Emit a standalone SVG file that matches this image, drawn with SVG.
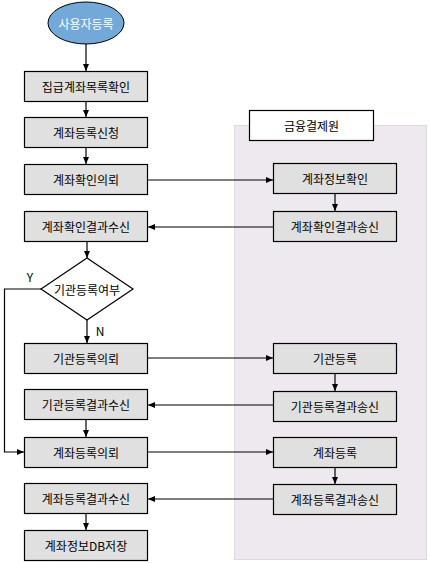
<svg xmlns="http://www.w3.org/2000/svg" width="430" height="563" viewBox="0 0 430 563">
<style>
.box{fill:#E0E0E0;stroke:#000;stroke-width:1.2}
.t{font-family:"Noto Sans CJK KR","Noto Sans",sans-serif;font-size:12px;fill:#000;text-anchor:middle;dominant-baseline:central}
.c{fill:none;stroke:#000;stroke-width:1.2}
.a{marker-end:url(#ah)}
</style>
<defs>
<marker id="ah" markerUnits="userSpaceOnUse" markerWidth="8" markerHeight="8" refX="7" refY="4" orient="auto">
<path d="M0,1 L7,4 L0,7 z" fill="#000"/>
</marker>
</defs>
<rect id="panel" x="234.5" y="125.5" width="192" height="434" fill="#EEE9EE" stroke="#DDD8DD" stroke-width="1"/>
<g id="panel-label"><rect x="249.5" y="110.5" width="124" height="30" fill="#fff" stroke="#000" stroke-width="1.2"/><text class="t" x="311.5" y="125.5">금융결제원</text></g>
<g id="connectors">
<line class="c a" x1="86" y1="44" x2="86" y2="71"/>
<line class="c a" x1="86" y1="101" x2="86" y2="117"/>
<line class="c a" x1="86" y1="148" x2="86" y2="164"/>
<line class="c a" x1="148" y1="180" x2="273" y2="180"/>
<line class="c a" x1="335" y1="194" x2="335" y2="211"/>
<line class="c a" x1="273" y1="227" x2="148" y2="227"/>
<line class="c a" x1="87" y1="242" x2="87" y2="258"/>
<line class="c a" x1="87" y1="320" x2="87" y2="343"/>
<polyline class="c a" points="41,289 4.5,289 4.5,452 24,452"/>
<line class="c a" x1="148" y1="358" x2="273" y2="358"/>
<line class="c a" x1="335" y1="373" x2="335" y2="391"/>
<line class="c a" x1="273" y1="405" x2="148" y2="405"/>
<line class="c a" x1="86" y1="420" x2="86" y2="437"/>
<line class="c a" x1="148" y1="452" x2="273" y2="452"/>
<line class="c a" x1="335" y1="467" x2="335" y2="484"/>
<line class="c a" x1="273" y1="499" x2="148" y2="499"/>
<line class="c a" x1="86" y1="513" x2="86" y2="530"/>
<text class="t" x="30" y="276">Y</text>
<text class="t" x="100" y="330">N</text>
</g>
<g id="start"><ellipse cx="86" cy="23" rx="38" ry="21" fill="#72A9D8" stroke="#000" stroke-width="1"/><text class="t" x="86" y="23" fill="#fff" style="fill:#fff">사용자등록</text></g>
<g id="n1"><rect class="box" x="24.5" y="71.5" width="123" height="30"/><text class="t" x="86" y="86.5">집급계좌목록확인</text></g>
<g id="n2"><rect class="box" x="24.5" y="117.5" width="123" height="30"/><text class="t" x="86" y="132.5">계좌등록신청</text></g>
<g id="n3"><rect class="box" x="24.5" y="164.5" width="123" height="30"/><text class="t" x="86" y="179.5">계좌확인의뢰</text></g>
<g id="n4"><rect class="box" x="24.5" y="211.5" width="123" height="30"/><text class="t" x="86" y="226.5">계좌확인결과수신</text></g>
<g id="d1"><polygon points="87,258 133,289 87,320 41,289" fill="#fff" stroke="#000" stroke-width="1.2"/><text class="t" x="87" y="289">기관등록여부</text></g>
<g id="n5"><rect class="box" x="24.5" y="343.5" width="123" height="30"/><text class="t" x="86" y="358.5">기관등록의뢰</text></g>
<g id="n6"><rect class="box" x="24.5" y="389.5" width="123" height="30"/><text class="t" x="86" y="404.5">기관등록결과수신</text></g>
<g id="n7"><rect class="box" x="24.5" y="437.5" width="123" height="30"/><text class="t" x="86" y="452.5">계좌등록의뢰</text></g>
<g id="n8"><rect class="box" x="24.5" y="483.5" width="123" height="30"/><text class="t" x="86" y="498.5">계좌등록결과수신</text></g>
<g id="n9"><rect class="box" x="24.5" y="530.5" width="123" height="30"/><text class="t" x="86" y="545.5">계좌정보DB저장</text></g>
<g id="r1"><rect class="box" x="273.5" y="163.5" width="123" height="30"/><text class="t" x="335" y="178.5">계좌정보확인</text></g>
<g id="r2"><rect class="box" x="273.5" y="211.5" width="123" height="30"/><text class="t" x="335" y="226.5">계좌확인결과송신</text></g>
<g id="r3"><rect class="box" x="273.5" y="343.5" width="123" height="30"/><text class="t" x="335" y="358.5">기관등록</text></g>
<g id="r4"><rect class="box" x="273.5" y="391.5" width="123" height="30"/><text class="t" x="335" y="406.5">기관등록결과송신</text></g>
<g id="r5"><rect class="box" x="273.5" y="437.5" width="123" height="30"/><text class="t" x="335" y="452.5">계좌등록</text></g>
<g id="r6"><rect class="box" x="273.5" y="484.5" width="123" height="30"/><text class="t" x="335" y="499.5">계좌등록결과송신</text></g>
</svg>
